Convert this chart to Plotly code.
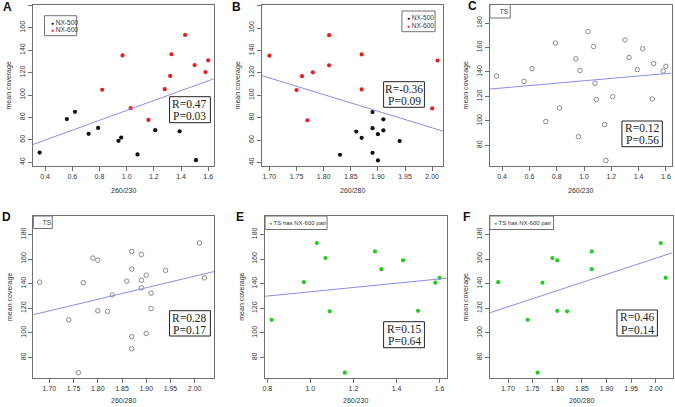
import plotly.graph_objects as go

W, H = 675, 407

# ---------------- data ----------------
# NX samples (mean coverage vs purity ratios)
nx500_r230 = [0.36, 0.56, 0.62, 0.72, 0.79, 0.94, 0.96, 1.08, 1.21, 1.39, 1.51]
nx500_r280 = [1.89, 1.91, 1.89, 1.90, 1.89, 1.94, 1.87, 1.83, 1.91, 1.86, 1.90]
nx500_cov = [48.6, 78.5, 85.0, 65.3, 70.6, 59.1, 62.0, 46.9, 68.6, 67.6, 41.8]

nx600_r230 = [0.82, 0.97, 1.03, 1.16, 1.28, 1.32, 1.33, 1.43, 1.50, 1.58, 1.60]
nx600_r280 = [1.75, 1.70, 2.00, 1.77, 1.87, 1.76, 1.87, 1.81, 1.81, 1.78, 2.01]
nx600_cov = [104.7, 135.3, 88.2, 77.7, 105.2, 117.0, 136.4, 153.6, 126.7, 120.5, 131.0]

# TS samples
ts_r230 = [0.36, 0.56, 0.62, 0.72, 0.79, 0.82, 0.94, 0.96, 0.97, 1.03, 1.07, 1.08,
           1.09, 1.15, 1.16, 1.21, 1.30, 1.33, 1.39, 1.43, 1.50, 1.51, 1.58, 1.60]
ts_r280 = [1.89, 1.91, 1.89, 1.90, 1.89, 1.74, 1.94, 1.87, 1.68, 2.01, 1.79, 1.83,
           1.82, 1.87, 1.76, 1.91, 1.87, 1.87, 1.86, 1.80, 1.80, 1.90, 1.77, 2.02]
ts_cov = [136.6, 132.3, 142.7, 99.5, 163.7, 110.6, 150.8, 87.1, 141.2, 173.0, 160.8, 130.8,
          117.5, 96.9, 67.6, 119.8, 166.2, 151.8, 142.0, 159.0, 117.9, 146.9, 140.8, 144.7]
ts_has_nx600_pair = [0, 0, 0, 0, 0, 1, 0, 0, 1, 1, 1, 0,
                     1, 0, 1, 0, 1, 1, 0, 1, 1, 0, 1, 1]

pair_r230 = [x for x, p in zip(ts_r230, ts_has_nx600_pair) if p]
pair_r280 = [x for x, p in zip(ts_r280, ts_has_nx600_pair) if p]
pair_cov = [y for y, p in zip(ts_cov, ts_has_nx600_pair) if p]

# regression fits (intercept, slope) and statistics per panel
fit_A = (42.1, 44.1)
fit_B = (367.9, -148.5)
fit_C = (123.0, 9.8)
fit_D = (-42.1, 94.1)
fit_E = (116.0, 17.4)
fit_F = (-102.7, 131.7)
stat_labels = {"A": ("0.47", "0.03"), "B": ("-0.36", "0.09"), "C": ("0.12", "0.56"),
               "D": ("0.28", "0.17"), "E": ("0.15", "0.64"), "F": ("0.46", "0.14")}

ticks_230 = [0.4, 0.6, 0.8, 1.0, 1.2, 1.4, 1.6]
ticks_230e = [0.8, 1.0, 1.2, 1.4, 1.6]
ticks_280 = [1.70, 1.75, 1.80, 1.85, 1.90, 1.95, 2.00]
ticks_cov = [40, 60, 80, 100, 120, 140, 160, 180]

# ---------------- layout constants ----------------
SANS = "Liberation Sans, Arial, sans-serif"
SERIF = "Liberation Serif, Times New Roman, serif"
LINE_COL = "#8c8ce8"
AX_COL = "#707070"
TXT_COL = "#333333"

panels = {
    # key: (axis suffix, box px (x0,x1,y0,y1), xrange, yrange, xticks, xfmt, xtitle)
    "A": ("", (30, 211.7, 4.5, 165.5), [0.31, 1.641], [37.05, 180.8], ticks_230, ".1f", "260/230"),
    "B": ("2", (260, 442, 4.5, 165.5), [1.686, 2.020], [37.3, 181.0], ticks_280, ".2f", "260/280"),
    "C": ("3", (489, 671.5, 4.5, 165.5), [0.31, 1.641], [63.5, 195.2], ticks_230, ".1f", "260/230"),
    "D": ("4", (30.5, 212, 216, 378), [1.667, 2.040], [63.3, 195.0], ticks_280, ".2f", "260/280"),
    "E": ("5", (263.3, 445.7, 216, 378), [0.79, 1.633], [63.3, 195.0], ticks_230e, ".1f", "260/230"),
    "F": ("6", (489, 672.5, 216, 378), [1.663, 2.034], [63.3, 195.0], ticks_280, ".2f", "260/280"),
}

fits = {"A": fit_A, "B": fit_B, "C": fit_C, "D": fit_D, "E": fit_E, "F": fit_F}

fig = go.Figure()


def add_pts(key, x, y, color, hollow=False):
    sfx = panels[key][0]
    if hollow:
        marker = dict(size=4.5, color="rgba(0,0,0,0)", line=dict(color="#8a8a8a", width=1))
    else:
        marker = dict(size=4.2, color=color, line=dict(width=0))
    fig.add_trace(go.Scatter(x=x, y=y, mode="markers", marker=marker,
                             xaxis="x" + sfx, yaxis="y" + sfx, showlegend=False,
                             hoverinfo="x+y"))


add_pts("A", nx500_r230, nx500_cov, "#111111")
add_pts("A", nx600_r230, nx600_cov, "#e41f1f")
add_pts("B", nx500_r280, nx500_cov, "#111111")
add_pts("B", nx600_r280, nx600_cov, "#e41f1f")
add_pts("C", ts_r230, ts_cov, None, hollow=True)
add_pts("D", ts_r280, ts_cov, None, hollow=True)
add_pts("E", pair_r230, pair_cov, "#22cc22")
add_pts("F", pair_r280, pair_cov, "#22cc22")

shapes = []
annotations = []

for key, (sfx, box, xr, yr, xt, xfmt, xtitle) in panels.items():
    x0, x1, y0, y1 = box
    # regression line
    b0, b1 = fits[key]
    fig.add_trace(go.Scatter(x=xr, y=[b0 + b1 * xr[0], b0 + b1 * xr[1]], mode="lines",
                             line=dict(color=LINE_COL, width=1),
                             xaxis="x" + sfx, yaxis="y" + sfx, showlegend=False,
                             hoverinfo="skip"))
    xa = dict(domain=[x0 / W, x1 / W], range=xr, anchor="y" + sfx,
              tickvals=xt, tickformat=xfmt, ticks="outside", ticklen=4, tickwidth=1,
              tickcolor=AX_COL, showline=True, linecolor=AX_COL, linewidth=1, mirror=True,
              showgrid=False, zeroline=False, tickfont=dict(family=SANS, size=7, color=TXT_COL))
    ya = dict(domain=[1 - y1 / H, 1 - y0 / H], range=yr, anchor="x" + sfx,
              tickvals=ticks_cov, ticks="outside", ticklen=4, tickwidth=1, tickangle=-90,
              tickcolor=AX_COL, showline=True, linecolor=AX_COL, linewidth=1, mirror=True,
              showgrid=False, zeroline=False, tickfont=dict(family=SANS, size=7, color=TXT_COL))
    fig.update_layout(**{"xaxis" + sfx: xa, "yaxis" + sfx: ya})

    # axis titles
    annotations.append(dict(text=xtitle, x=(x0 + x1) / 2 / W, y=1 - min(y1 + 24.5, 400.5) / H,
                            xref="paper", yref="paper", showarrow=False,
                            xanchor="center", yanchor="middle",
                            font=dict(family=SANS, size=7, color=TXT_COL)))
    annotations.append(dict(text="mean coverage", x=(x0 - 23.5) / W, y=1 - (y0 + y1) / 2 / H,
                            xref="paper", yref="paper", showarrow=False, textangle=-90,
                            xanchor="center", yanchor="middle",
                            font=dict(family=SANS, size=7, color=TXT_COL)))

# panel letters
letters = {"A": (5, 7), "B": (235, 7), "C": (471.5, 6), "D": (4, 217), "E": (238, 217), "F": (466, 217)}
for k, (lx, ly) in letters.items():
    annotations.append(dict(text="<b>%s</b>" % k, x=lx / W, y=1 - ly / H, xref="paper", yref="paper",
                            showarrow=False, xanchor="center", yanchor="middle",
                            font=dict(family=SANS, size=12, color="#111111")))

# R / P boxes
stat_boxes = {"A": (167.3, 208.3, 96.7, 122.7), "B": (382.3, 423.3, 81.7, 107.3),
              "C": (621.7, 662.3, 121, 146.7), "D": (167.3, 208.3, 310.7, 336),
              "E": (382.3, 423.3, 321.7, 347.7), "F": (616.7, 657.3, 310, 336)}
for k, (bx0, bx1, by0, by1) in stat_boxes.items():
    shapes.append(dict(type="rect", xref="paper", yref="paper", x0=bx0 / W, x1=bx1 / W,
                       y0=1 - by1 / H, y1=1 - by0 / H, line=dict(color="#222222", width=1),
                       fillcolor="white"))
    r, p = stat_labels[k]
    cx = (bx0 + bx1) / 2
    annotations.append(dict(text="R=" + r, x=cx / W, y=1 - (by0 + 7) / H, xref="paper", yref="paper",
                            showarrow=False, xanchor="center", yanchor="middle",
                            font=dict(family=SERIF, size=11.5, color="#222222")))
    annotations.append(dict(text="P=" + p, x=cx / W, y=1 - (by1 - 6.5) / H, xref="paper", yref="paper",
                            showarrow=False, xanchor="center", yanchor="middle",
                            font=dict(family=SERIF, size=11.5, color="#222222")))

# legends (boxes + entries)
legend_boxes = {"A": (41.7, 74, 15.7, 35.7), "B": (400.7, 434, 11, 31.7),
                "C": (489, 509.5, 4.5, 18), "D": (30.5, 49.5, 216, 228.5),
                "E": (263.3, 325.5, 216, 229.5), "F": (489, 553, 216, 229.5)}
for k, (bx0, bx1, by0, by1) in legend_boxes.items():
    shapes.append(dict(type="rect", xref="paper", yref="paper", x0=bx0 / W, x1=bx1 / W,
                       y0=1 - by1 / H, y1=1 - by0 / H, line=dict(color=AX_COL, width=1),
                       fillcolor="white"))

legend_entries = [
    # (panel, glyph, glyph colour, label, x px, y px, font size)
    ("A", "●", "#111111", "NX-500", 46.5, 22.0, 6.5),
    ("A", "●", "#e41f1f", "NX-600", 46.5, 29.4, 6.5),
    ("B", "●", "#111111", "NX-500", 404.0, 17.5, 6.5),
    ("B", "●", "#e41f1f", "NX-600", 404.0, 25.0, 6.5),
    ("C", "○", "#8a8a8a", "TS", 492.0, 11.3, 6.5),
    ("D", "○", "#8a8a8a", "TS", 32.8, 222.2, 6.5),
    ("E", "●", "#22cc22", "TS has NX-600 pair", 264.8, 222.8, 6.0),
    ("F", "●", "#22cc22", "TS has NX-600 pair", 491.5, 222.8, 6.0),
]
for k, g, gc, lab, ex, ey, fs in legend_entries:
    annotations.append(dict(text="<span style='color:%s;font-size:5px'>%s</span> %s" % (gc, g, lab),
                            x=ex / W, y=1 - ey / H, xref="paper", yref="paper", showarrow=False,
                            xanchor="left", yanchor="middle",
                            font=dict(family=SANS, size=fs, color=TXT_COL)))

fig.update_layout(width=W, height=H, margin=dict(l=0, r=0, t=0, b=0),
                  paper_bgcolor="white", plot_bgcolor="white", showlegend=False,
                  shapes=shapes, annotations=annotations)

fig.write_html("out.html", config={"displayModeBar": False},
               post_script="document.body.style.margin='0px';document.body.style.padding='0px';"
                           "document.body.style.overflow='hidden';")
